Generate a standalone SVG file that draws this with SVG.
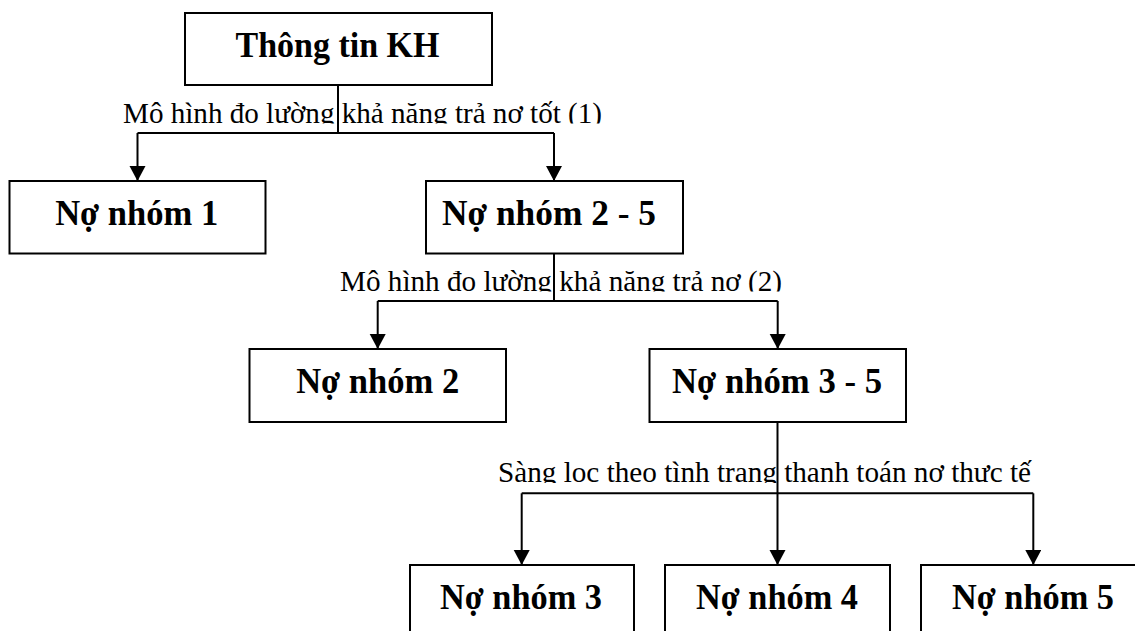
<svg xmlns="http://www.w3.org/2000/svg" width="1135" height="631" viewBox="0 0 1135 631">
  <style>
    .box { fill: #ffffff; stroke: #000000; stroke-width: 2; }
    .title { font-family: "Liberation Serif", "Times New Roman", serif; font-weight: bold; font-size: 35px; fill: #000000; text-anchor: middle; }
    .label { font-family: "Liberation Serif", "Times New Roman", serif; font-size: 29px; fill: #000000; }
    .wire { fill: none; stroke: #000000; stroke-width: 2; }
  </style>
  <defs>
    <marker id="arrow" markerUnits="userSpaceOnUse" markerWidth="17" markerHeight="17" refX="15" refY="8" orient="auto">
      <path d="M0,0 L15,8 L0,16 Z" fill="#000000"/>
    </marker>
    <!-- the branch captions sit on a band that cuts off their descenders -->
    <clipPath id="band1" clipPathUnits="userSpaceOnUse"><rect x="0" y="90" width="1135" height="33.5"/></clipPath>
    <clipPath id="band2" clipPathUnits="userSpaceOnUse"><rect x="0" y="258" width="1135" height="33.5"/></clipPath>
    <clipPath id="band3" clipPathUnits="userSpaceOnUse"><rect x="0" y="450" width="1135" height="33"/></clipPath>
  </defs>
  <rect width="1135" height="631" fill="#ffffff"/>

  <!-- branch captions -->
  <g id="captions">
    <text class="label" x="123" y="122.5" textLength="479" lengthAdjust="spacingAndGlyphs" clip-path="url(#band1)">Mô hình đo lường khả năng trả nơ tốt (1)</text>
    <text class="label" x="340" y="290.5" textLength="442" lengthAdjust="spacingAndGlyphs" clip-path="url(#band2)">Mô hình đo lường khả năng trả nơ (2)</text>
    <text class="label" x="498" y="482" textLength="533" lengthAdjust="spacingAndGlyphs" clip-path="url(#band3)">Sàng loc theo tình trang thanh toán nơ thưc tế</text>
  </g>

  <!-- connectors -->
  <g id="connectors">
    <path class="wire" d="M338,85 V133"/>
    <path class="wire" d="M137.5,133 H554"/>
    <path class="wire" d="M137.5,133 V181" marker-end="url(#arrow)"/>
    <path class="wire" d="M554,133 V181" marker-end="url(#arrow)"/>

    <path class="wire" d="M554,253.5 V301"/>
    <path class="wire" d="M377.7,301 H777.7"/>
    <path class="wire" d="M377.7,301 V349" marker-end="url(#arrow)"/>
    <path class="wire" d="M777.7,301 V349" marker-end="url(#arrow)"/>

    <path class="wire" d="M521.7,493.3 H1033.3"/>
    <path class="wire" d="M521.7,493.3 V565" marker-end="url(#arrow)"/>
    <path class="wire" d="M1033.3,493.3 V565" marker-end="url(#arrow)"/>
    <path class="wire" d="M777.5,422 V565" marker-end="url(#arrow)"/>
  </g>

  <g id="node-thong-tin-kh">
    <rect class="box" x="185" y="13" width="307" height="72"/>
    <text class="title" x="337.5" y="57" textLength="204" lengthAdjust="spacingAndGlyphs">Thông tin KH</text>
  </g>
  <g id="node-no-nhom-1">
    <rect class="box" x="9.5" y="181" width="256" height="72.5"/>
    <text class="title" x="136.7" y="225" textLength="163" lengthAdjust="spacingAndGlyphs">Nợ nhóm 1</text>
  </g>
  <g id="node-no-nhom-2-5">
    <rect class="box" x="426" y="181" width="257" height="72.5"/>
    <text class="title" x="549" y="225" textLength="214" lengthAdjust="spacingAndGlyphs">Nợ nhóm 2 - 5</text>
  </g>
  <g id="node-no-nhom-2">
    <rect class="box" x="249.5" y="349" width="256.5" height="73"/>
    <text class="title" x="377.7" y="393.3" textLength="163" lengthAdjust="spacingAndGlyphs">Nợ nhóm 2</text>
  </g>
  <g id="node-no-nhom-3-5">
    <rect class="box" x="649.5" y="349" width="256.5" height="73"/>
    <text class="title" x="777" y="393.3" textLength="210" lengthAdjust="spacingAndGlyphs">Nợ nhóm 3 - 5</text>
  </g>
  <g id="node-no-nhom-3">
    <rect class="box" x="410" y="565" width="224" height="80"/>
    <text class="title" x="521" y="609" textLength="162" lengthAdjust="spacingAndGlyphs">Nợ nhóm 3</text>
  </g>
  <g id="node-no-nhom-4">
    <rect class="box" x="665" y="565" width="225" height="80"/>
    <text class="title" x="777" y="609" textLength="162" lengthAdjust="spacingAndGlyphs">Nợ nhóm 4</text>
  </g>
  <g id="node-no-nhom-5">
    <rect class="box" x="921" y="565" width="230" height="80"/>
    <text class="title" x="1033" y="609" textLength="162" lengthAdjust="spacingAndGlyphs">Nợ nhóm 5</text>
  </g>
</svg>
